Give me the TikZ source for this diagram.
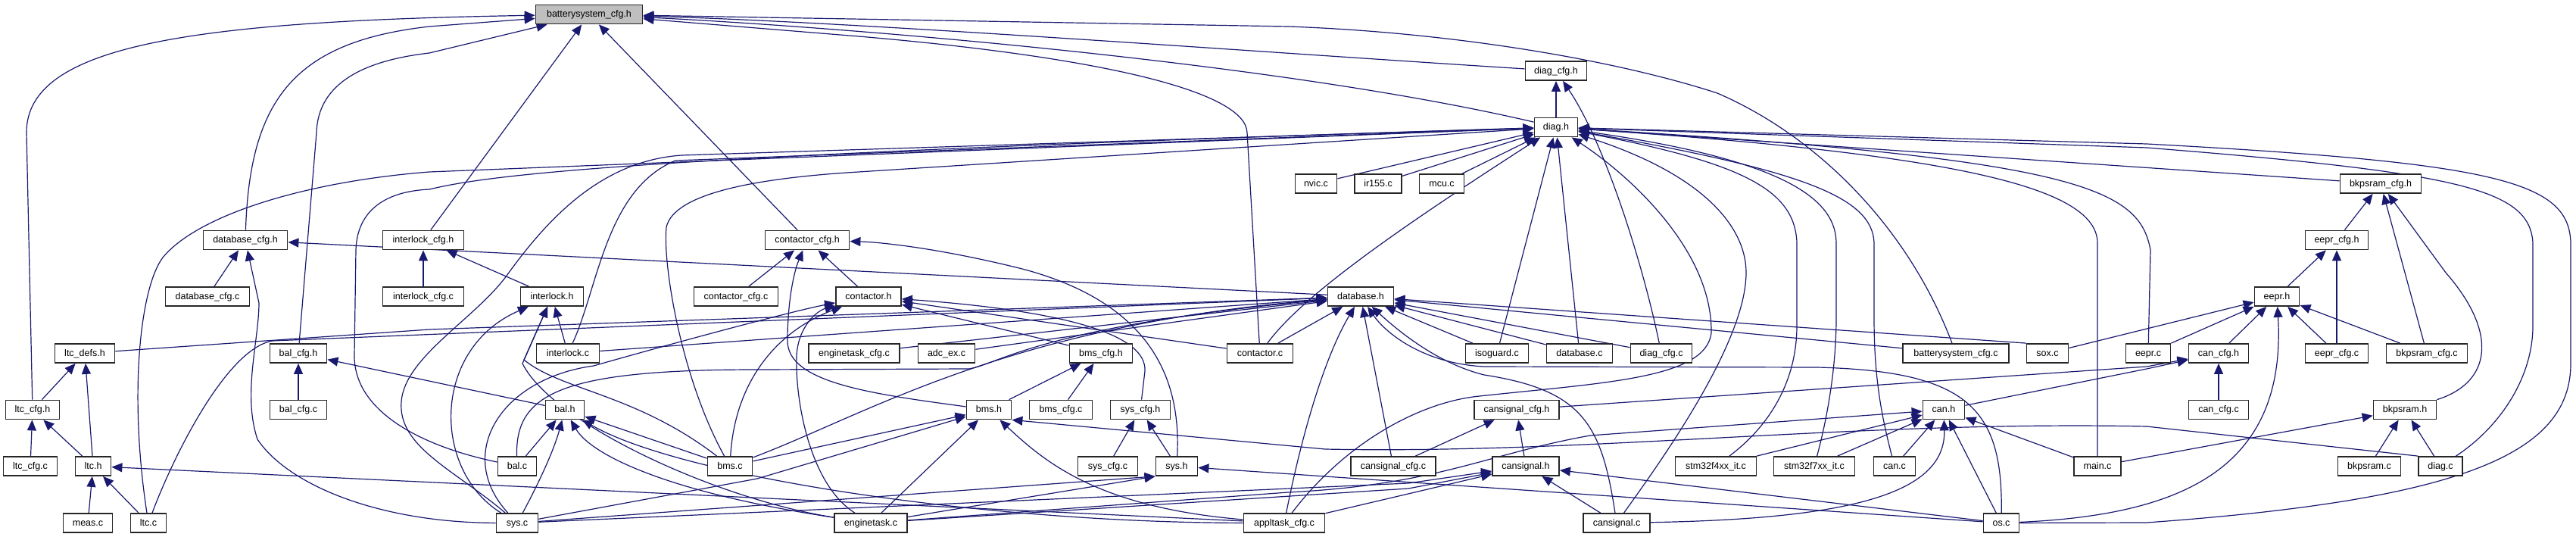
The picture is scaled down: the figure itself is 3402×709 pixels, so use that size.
\documentclass[tikz,border=0pt]{standalone}
\usepackage{fontspec}
\setmainfont{Liberation Sans}
\usepackage{tikz}
\usetikzlibrary{arrows.meta}
\definecolor{edgeblue}{HTML}{191970}
\definecolor{rootgray}{HTML}{BFBFBF}
\pgfdeclarelayer{bg}
\pgfsetlayers{bg,main}
\tikzstyle{file}=[draw=black!85, line width=1.8pt, fill=white, shape=rectangle,
        font=\fontsize{12.5}{15}\selectfont, minimum height=25pt,
        inner xsep=1pt, inner ysep=0pt, text height=9.5pt, text depth=2.5pt]
\tikzstyle{root}=[file, fill=rootgray]
\tikzstyle{inc}=[draw=edgeblue, line width=1.2pt,
        -{Triangle[length=14pt, width=12pt]}]

\begin{document}
\begin{tikzpicture}[x=1pt, y=-1pt]
        \useasboundingbox (0,0) rectangle (3402,709);

        \node[root, minimum width=141pt] (bsc) at (778,19) {batterysystem\_cfg.h};
        \node[file, minimum width=81pt] (diagcfgh) at (2055,93.5) {diag\_cfg.h};
        \node[file, minimum width=57pt] (diagh) at (2055,168) {diag.h};

        \node[file, minimum width=55pt] (nvic) at (1738,242.5) {nvic.c};
        \node[file, minimum width=62pt] (irf) at (1820,242.5) {ir155.c};
        \node[file, minimum width=59pt] (mcu) at (1904,242.5) {mcu.c};
        \node[file, minimum width=107pt] (bkpcfgh) at (3144,242.5) {bkpsram\_cfg.h};

        \node[file, minimum width=111pt] (dbcfgh) at (324,317) {database\_cfg.h};
        \node[file, minimum width=107pt] (ilcfgh) at (559,317) {interlock\_cfg.h};
        \node[file, minimum width=111pt] (contcfgh) at (1066,317) {contactor\_cfg.h};
        \node[file, minimum width=83pt] (eeprcfgh) at (3086,317) {eepr\_cfg.h};

        \node[file, minimum width=111pt] (dbcfgc) at (274,391.5) {database\_cfg.c};
        \node[file, minimum width=107pt] (ilcfgc) at (559,391.5) {interlock\_cfg.c};
        \node[file, minimum width=83pt] (ilh) at (729,391.5) {interlock.h};
        \node[file, minimum width=111pt] (contcfgc) at (972,391.5) {contactor\_cfg.c};
        \node[file, minimum width=86pt] (conth) at (1147,391.5) {contactor.h};
        \node[file, minimum width=87pt] (dbh) at (1797,391.5) {database.h};
        \node[file, minimum width=59pt] (eeprh) at (3007,391.5) {eepr.h};

        \node[file, minimum width=79pt] (ltcdefs) at (112,466.5) {ltc\_defs.h};
        \node[file, minimum width=75pt] (balcfgh) at (394,466.5) {bal\_cfg.h};
        \node[file, minimum width=83pt] (ilc) at (750,466.5) {interlock.c};
        \node[file, minimum width=120pt] (etcfg) at (1128,466.5) {enginetask\_cfg.c};
        \node[file, minimum width=75pt] (adcex) at (1250,466.5) {adc\_ex.c};
        \node[file, minimum width=83pt] (bmscfgh) at (1454,466.5) {bms\_cfg.h};
        \node[file, minimum width=87pt] (contc) at (1664,466.5) {contactor.c};
        \node[file, minimum width=83pt] (isoguard) at (1977,466.5) {isoguard.c};
        \node[file, minimum width=87pt] (dbc) at (2086,466.5) {database.c};
        \node[file, minimum width=81pt] (diagcfgc) at (2194,466.5) {diag\_cfg.c};
        \node[file, minimum width=140pt] (bscc) at (2583,466.5) {batterysystem\_cfg.c};
        \node[file, minimum width=55pt] (sox) at (2704,466.5) {sox.c};
        \node[file, minimum width=59pt] (eeprc) at (2837,466.5) {eepr.c};
        \node[file, minimum width=79pt] (cancfgh) at (2930,466.5) {can\_cfg.h};
        \node[file, minimum width=83pt] (eeprcfgc) at (3086,466.5) {eepr\_cfg.c};
        \node[file, minimum width=107pt] (bkpcfgc) at (3205,466.5) {bkpsram\_cfg.c};

        \node[file, minimum width=71pt] (ltccfgh) at (43,541) {ltc\_cfg.h};
        \node[file, minimum width=75pt] (balcfgc) at (394,541) {bal\_cfg.c};
        \node[file, minimum width=51pt] (balh) at (746,541) {bal.h};
        \node[file, minimum width=59pt] (bmsh) at (1306,541) {bms.h};
        \node[file, minimum width=83pt] (bmscfgc) at (1401,541) {bms\_cfg.c};
        \node[file, minimum width=79pt] (syscfgh) at (1506,541) {sys\_cfg.h};
        \node[file, minimum width=112pt] (cscfgh) at (2003,541) {cansignal\_cfg.h};
        \node[file, minimum width=55pt] (canh) at (2567,541) {can.h};
        \node[file, minimum width=79pt] (cancfgc) at (2930,541) {can\_cfg.c};
        \node[file, minimum width=83pt] (bkph) at (3176,541) {bkpsram.h};

        \node[file, minimum width=71pt] (ltccfgc) at (40,615.5) {ltc\_cfg.c};
        \node[file, minimum width=47pt] (ltch) at (123,615.5) {ltc.h};
        \node[file, minimum width=51pt] (balc) at (683,615.5) {bal.c};
        \node[file, minimum width=59pt] (bmsc) at (964,615.5) {bms.c};
        \node[file, minimum width=79pt] (syscfgc) at (1463,615.5) {sys\_cfg.c};
        \node[file, minimum width=55pt] (sysh) at (1554,615.5) {sys.h};
        \node[file, minimum width=112pt] (cscfgc) at (1840,615.5) {cansignal\_cfg.c};
        \node[file, minimum width=88pt] (csh) at (2015,615.5) {cansignal.h};
        \node[file, minimum width=107pt] (stmf4) at (2266,615.5) {stm32f4xx\_it.c};
        \node[file, minimum width=107pt] (stmf7) at (2396,615.5) {stm32f7xx\_it.c};
        \node[file, minimum width=55pt] (canc) at (2502,615.5) {can.c};
        \node[file, minimum width=62pt] (mainc) at (2770,615.5) {main.c};
        \node[file, minimum width=83pt] (bkpc) at (3129,615.5) {bkpsram.c};
        \node[file, minimum width=58pt] (diagc) at (3223,615.5) {diag.c};

        \node[file, minimum width=65pt] (meas) at (116,690.5) {meas.c};
        \node[file, minimum width=47pt] (ltcc) at (196,690.5) {ltc.c};
        \node[file, minimum width=55pt] (sysc) at (683,690.5) {sys.c};
        \node[file, minimum width=96pt] (etc) at (1150,690.5) {enginetask.c};
        \node[file, minimum width=107pt] (atcfg) at (1696,690.5) {appltask\_cfg.c};
        \node[file, minimum width=88pt] (csc) at (2135,690.5) {cansignal.c};
        \node[file, minimum width=47pt] (osc) at (2643,690.5) {os.c};

        \begin{pgfonlayer}{bg}
        % batterysystem_cfg.h
        \draw[inc] (ltccfgh) -- (35,175) .. controls (35,60) and (250,28) .. (bsc);
        \draw[inc] (dbcfgh) .. controls (330,130) and (390,55) .. (567,35) -- (bsc);
        \draw[inc] (balcfgh) -- (418,175) .. controls (420,110) and (480,80) .. (567,70) -- (bsc);
        \draw[inc] (ilcfgh) -- (bsc);
        \draw[inc] (contcfgh) -- (bsc);
        \draw[inc] (diagcfgh) .. controls (1650,68) and (1150,30) .. (bsc);
        \draw[inc] (diagh) .. controls (1700,85) and (1150,38) .. (bsc);
        \draw[inc] (contc) -- (1647,175) .. controls (1645,120) and (1450,75) .. (1134,48) -- (bsc);
        \draw[inc] (bscc) .. controls (2520,300) and (2400,180) .. (2268,123)
            .. controls (2120,75) and (1900,42) .. (1701,35) -- (bsc);

        % diag_cfg.h and diag.h
        \draw[inc] (diagh) -- (diagcfgh);
        \draw[inc] (diagcfgc) .. controls (2170,350) and (2120,190) .. (diagcfgh);
        \draw[inc] (nvic) -- (diagh);
        \draw[inc] (irf) -- (diagh);
        \draw[inc] (mcu) -- (diagh);
        \draw[inc] (ltcc) .. controls (170,520) and (185,380) .. (215,340)
            .. controls (260,285) and (400,240) .. (567,227) -- (diagh);
        \draw[inc] (balc) .. controls (560,590) and (468,545) .. (468,470) -- (470,330)
            .. controls (472,270) and (520,252) .. (567,250)
            .. controls (650,230) and (850,205) .. (diagh);
        \draw[inc] (sysc) .. controls (600,620) and (525,590) .. (530,530)
            .. controls (535,470) and (630,420) .. (672,360)
            .. controls (730,280) and (800,212) .. (900,205) -- (diagh);
        \draw[inc] (ilc) .. controls (790,380) and (800,250) .. (892,212) -- (diagh);
        \draw[inc] (bmsc) .. controls (900,500) and (875,350) .. (880,300)
            .. controls (890,255) and (1000,235) .. (1134,227) -- (diagh);
        \draw[inc] (contc) .. controls (1720,390) and (1850,300) .. (diagh);
        \draw[inc] (isoguard) -- (diagh);
        \draw[inc] (dbc) -- (diagh);
        \draw[inc] (atcfg) .. controls (1780,580) and (1880,530) .. (1954,523)
            .. controls (2120,505) and (2252,500) .. (2260,440)
            .. controls (2262,330) and (2150,230) .. (diagh);
        \draw[inc] (csc) .. controls (2200,600) and (2306,450) .. (2306,360)
            .. controls (2306,300) and (2250,230) .. (diagh);
        \draw[inc] (stmf4) .. controls (2340,560) and (2373,500) .. (2373,430) -- (2373,320)
            .. controls (2370,250) and (2300,215) .. (diagh);
        \draw[inc] (stmf7) .. controls (2415,545) and (2425,480) .. (2425,420) -- (2425,320)
            .. controls (2424,260) and (2350,210) .. (diagh);
        \draw[inc] (canc) .. controls (2485,550) and (2475,500) .. (2475,420) -- (2475,320)
            .. controls (2472,260) and (2380,225) .. (diagh);
        \draw[inc] (mainc) -- (2770,320) .. controls (2768,250) and (2600,205) .. (diagh);
        \draw[inc] (eeprc) -- (2840,330) .. controls (2825,250) and (2750,210) .. (diagh);
        \draw[inc] (diagc) .. controls (3300,565) and (3345,500) .. (3345,430) -- (3345,320)
            .. controls (3340,250) and (3250,228) .. (2835,195) -- (diagh);
        \draw[inc] (osc) -- (2835,690) .. controls (3250,660) and (3395,600) .. (3395,480)
            -- (3395,320) .. controls (3392,240) and (3300,215) .. (2835,190) -- (diagh);
        \draw[inc] (bkpcfgh) -- (diagh);

        % database_cfg.h, interlock_cfg.h, contactor_cfg.h
        \draw[inc] (dbcfgc) -- (dbcfgh);
        \draw[inc] (sysc) .. controls (500,690) and (380,640) .. (340,580)
            .. controls (320,520) and (342,450) .. (342,400) -- (dbcfgh);
        \draw[inc] (dbh) -- (dbcfgh);
        \draw[inc] (ilcfgc) -- (ilcfgh);
        \draw[inc] (ilh) -- (ilcfgh);
        \draw[inc] (contcfgc) -- (contcfgh);
        \draw[inc] (bmsh) .. controls (1150,520) and (1040,505) .. (1040,450)
            .. controls (1040,400) and (1048,360) .. (contcfgh);
        \draw[inc] (conth) -- (contcfgh);
        \draw[inc] (sysh) .. controls (1560,500) and (1520,400) .. (1350,355)
            .. controls (1250,330) and (1170,320) .. (contcfgh);

        % contactor.h
        \draw[inc] (sysc) .. controls (600,600) and (660,500) .. (784,483)
            .. controls (900,450) and (1050,410) .. (conth);
        \draw[inc] (etc) .. controls (1070,640) and (1050,530) .. (1052,470)
            .. controls (1054,430) and (1080,410) .. (conth);
        \draw[inc] (bmsc) .. controls (970,510) and (1020,440) .. (conth);
        \draw[inc] (syscfgh) -- (1512,490) .. controls (1515,440) and (1400,410) .. (conth);
        \draw[inc] (bmscfgh) -- (conth);
        \draw[inc] (contc) -- (conth);

        % database.h
        \draw[inc] (ltcdefs) -- (567,435) -- (dbh);
        \draw[inc] (ltcc) .. controls (230,600) and (300,460) .. (360,450) -- (dbh);
        \draw[inc] (ilc) -- (dbh);
        \draw[inc] (etcfg) -- (dbh);
        \draw[inc] (adcex) -- (dbh);
        \draw[inc] (balc) .. controls (680,520) and (740,488) .. (1000,488) -- (1280,487)
            .. controls (1320,480) and (1380,430) .. (dbh);
        \draw[inc] (bmsc) .. controls (1150,545) and (1330,430) .. (dbh);
        \draw[inc] (contc) -- (dbh);
        \draw[inc] (atcfg) .. controls (1720,570) and (1750,470) .. (dbh);
        \draw[inc] (cscfgc) -- (dbh);
        \draw[inc] (csc) .. controls (2115,560) and (2090,515) .. (1960,495)
            .. controls (1900,480) and (1850,440) .. (dbh);
        \draw[inc] (isoguard) -- (dbh);
        \draw[inc] (dbc) -- (dbh);
        \draw[inc] (diagcfgc) -- (dbh);
        \draw[inc] (sox.north west) -- (dbh);
        \draw[inc] (bscc) -- (dbh);
        \draw[inc] (osc) .. controls (2645,540) and (2600,490) .. (2400,485) -- (1960,484)
            .. controls (1880,480) and (1830,440) .. (dbh);

        % eepr_cfg.h, bkpsram_cfg.h, eepr.h
        \draw[inc] (eeprh) -- (eeprcfgh);
        \draw[inc] (eeprcfgc) -- (eeprcfgh);
        \draw[inc] (eeprcfgh) -- (bkpcfgh);
        \draw[inc] (bkpcfgc) -- (bkpcfgh);
        \draw[inc] (bkph) .. controls (3290,505) and (3300,440) .. (3230,360) -- (bkpcfgh);
        \draw[inc] (sox) -- (eeprh);
        \draw[inc] (eeprc) -- (eeprh);
        \draw[inc] (cancfgh) -- (eeprh);
        \draw[inc] (eeprcfgc) -- (eeprh);
        \draw[inc] (bkpcfgc) -- (eeprh);
        \draw[inc] (osc) .. controls (2880,680) and (3020,620) .. (eeprh);

        % can_cfg.h, cansignal_cfg.h, bal_cfg.h
        \draw[inc] (cancfgc) -- (cancfgh);
        \draw[inc] (canh) -- (2835,487) -- (cancfgh);
        \draw[inc] (cscfgh) -- (2835,484) -- (cancfgh);
        \draw[inc] (cscfgc) -- (cscfgh);
        \draw[inc] (csh) -- (cscfgh);
        \draw[inc] (balcfgc) -- (balcfgh);
        \draw[inc] (balh) -- (balcfgh);

        % bal.h, interlock.h
        \draw[inc] (balc) -- (balh);
        \draw[inc] (sysc) .. controls (705,650) and (730,600) .. (balh);
        \draw[inc] (etc) .. controls (880,650) and (780,600) .. (balh);
        \draw[inc] (bmsc) -- (balh);
        \draw[inc] (atcfg) .. controls (1300,690) and (900,630) .. (balh);
        \draw[inc] (sysc) .. controls (570,620) and (570,460) .. (ilh);
        \draw[inc] (etc) .. controls (950,660) and (730,560) .. (690,480) -- (ilh);
        \draw[inc] (bmsc) .. controls (840,520) and (740,515) .. (692,475) -- (ilh);
        \draw[inc] (ilc) -- (ilh);

        % bms_cfg.h, sys_cfg.h, bms.h, sys.h
        \draw[inc] (bmsh) -- (bmscfgh);
        \draw[inc] (bmscfgc) -- (bmscfgh);
        \draw[inc] (syscfgc) -- (syscfgh);
        \draw[inc] (sysh) -- (syscfgh);
        \draw[inc] (bmsc) -- (bmsh);
        \draw[inc] (sysc) -- (1000,632) -- (bmsh);
        \draw[inc] (etc) -- (bmsh);
        \draw[inc] (atcfg) .. controls (1450,670) and (1380,610) .. (bmsh);
        \draw[inc] (diagc.north west) -- (2835,563) .. controls (2450,555) and (2100,600) .. (1750,593)
            -- (bmsh.south east);
        \draw[inc] (sysc) -- (sysh.south west);
        \draw[inc] (etc) -- (sysh.south west);
        \draw[inc] (osc) -- (sysh);

        % ltc files
        \draw[inc] (meas) -- (ltch);
        \draw[inc] (ltcc) -- (ltch);
        \draw[inc] (atcfg) -- (ltch);
        \draw[inc] (ltccfgh) -- (ltcdefs);
        \draw[inc] (ltch) -- (ltcdefs);
        \draw[inc] (ltccfgc) -- (ltccfgh);
        \draw[inc] (ltch) -- (ltccfgh);

        % cansignal.h, can.h, bkpsram.h
        \draw[inc] (sysc) -- (1860,638) -- (csh);
        \draw[inc] (etc) -- (1860,645) -- (csh);
        \draw[inc] (atcfg) -- (csh);
        \draw[inc] (csc) -- (csh);
        \draw[inc] (osc) -- (csh);
        \draw[inc] (stmf4) -- (canh);
        \draw[inc] (stmf7) -- (canh);
        \draw[inc] (canc) -- (canh);
        \draw[inc] (mainc) -- (canh);
        \draw[inc] (osc) -- (canh);
        \draw[inc] (csc) .. controls (2450,685) and (2570,650) .. (canh);
        \draw[inc] (etc) -- (1701,650) .. controls (1900,640) and (1960,600) .. (2100,575) -- (canh);
        \draw[inc] (bkpc) -- (bkph);
        \draw[inc] (diagc) -- (bkph);
        \draw[inc] (mainc) -- (bkph);
        \end{pgfonlayer}
\end{tikzpicture}
\end{document}
